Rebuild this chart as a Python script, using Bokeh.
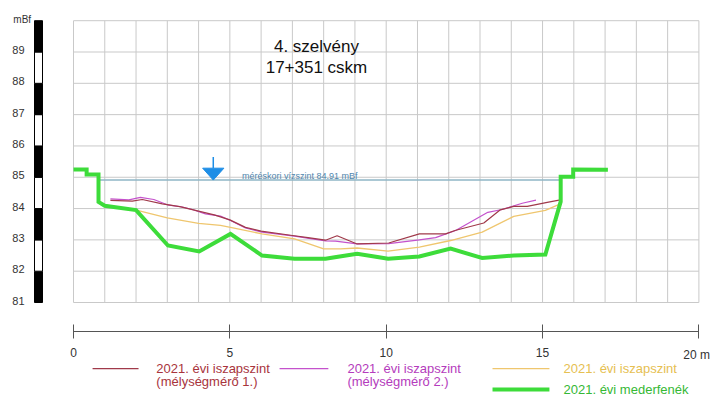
from bokeh.plotting import figure
from bokeh.models import LinearAxis, FixedTicker
from bokeh.core.properties import value
from bokeh.embed import file_html
from bokeh.resources import INLINE

# ---------------- data ----------------
title_lines = ["4. szelvény", "17+351 cskm"]

x_ticks = [0, 5, 10, 15, 20]
x_tick_labels = ["0", "5", "10", "15", "20 m"]

grid_x = list(range(0, 21))
levels = [81, 82, 83, 84, 85, 86, 87, 88, 89, 90]
level_labels = ["81", "82", "83", "84", "85", "86", "87", "88", "89"]
y_unit = "mBf"

water_level = 84.91
water_x = [0.80, 15.58]
water_marker_x = 4.47
water_text = "méréskori vízszint 84.91 mBf"

bed_x = [0.0, 0.42, 0.42, 0.80, 0.80, 1.00, 2.00, 3.02, 4.02, 5.02, 6.03, 7.07, 8.06,
         9.07, 10.06, 11.06, 12.06, 13.07, 14.08, 15.09, 15.58, 15.58, 15.98, 15.98, 17.09]
bed_y = [85.25, 85.25, 85.09, 85.09, 84.21, 84.09, 83.95, 82.82, 82.63, 83.19, 82.50, 82.40, 82.40,
         82.56, 82.40, 82.47, 82.72, 82.42, 82.50, 82.53, 84.22, 85.02, 85.02, 85.25, 85.24]

silt1_x = [1.18, 1.88, 2.20, 2.84, 3.40, 4.00, 4.50, 5.00, 5.50, 6.00, 7.00, 7.50, 8.06, 8.43,
           9.07, 10.08, 11.06, 11.90, 12.20, 13.12, 13.65, 14.08, 14.51, 15.15, 15.57]
silt1_y = [84.26, 84.24, 84.29, 84.15, 84.06, 83.92, 83.80, 83.64, 83.40, 83.28, 83.14, 83.07, 82.99, 83.13,
           82.87, 82.90, 83.19, 83.19, 83.30, 83.54, 83.96, 84.07, 84.07, 84.20, 84.28]

silt2_x = [1.18, 1.77, 2.14, 2.57, 3.00, 3.48, 3.80, 4.22, 4.70, 5.02, 5.50, 6.03, 7.07, 7.53, 8.06,
           8.38, 9.07, 10.08, 11.06, 11.58, 12.22, 13.25, 13.70, 14.35, 14.79]
silt2_y = [84.31, 84.28, 84.36, 84.29, 84.12, 84.05, 83.97, 83.83, 83.76, 83.62, 83.38, 83.25, 83.12, 83.05, 82.97,
           82.96, 82.87, 82.88, 83.00, 83.07, 83.30, 83.88, 83.97, 84.17, 84.27]

silt3_x = [2.01, 3.00, 4.00, 4.70, 5.02, 6.03, 7.07, 8.00, 8.54, 9.07, 10.06, 11.06, 12.06, 13.07,
           14.08, 15.09, 15.57]
silt3_y = [83.95, 83.70, 83.53, 83.46, 83.40, 83.19, 83.03, 82.71, 82.71, 82.74, 82.64, 82.77, 82.98, 83.25,
           83.75, 83.94, 84.15]

legend_labels = [["2021. évi iszapszint", "(mélységmérő 1.)"],
                 ["2021. évi iszapszint", "(mélységmérő 2.)"],
                 ["2021. évi iszapszint"],
                 ["2021. évi mederfenék"]]

# ---------------- style ----------------
FONT = value("Liberation Sans")
C_SILT1 = "#a03a4a"
C_SILT2 = "#c452cc"
C_SILT3 = "#efc66e"
C_BED = "#3ddc3a"
C_TXT1 = "#a8343c"
C_TXT2 = "#b43cbc"
C_TXT3 = "#e6c052"
C_TXT4 = "#35b835"
C_WATER = "#8fb6c6"
C_WTXT = "#4f86ae"
C_MARK = "#1e8ee6"
C_GRID = "#c9c9c9"

p = figure(width=711, height=396, x_range=(-2.3345, 20.403), y_range=(77.998, 90.645),
           output_backend="svg", toolbar_location=None,
           x_axis_location=None, y_axis_location=None, min_border=0,
           outline_line_color=None, background_fill_color="white", border_fill_color="white")
for g in p.grid:
    g.visible = False

# grid
gx0, gx1 = grid_x[0], grid_x[-1]
gy0, gy1 = levels[0], levels[-1]
p.segment(x0=grid_x, y0=[gy0] * len(grid_x), x1=grid_x, y1=[gy1] * len(grid_x),
          line_color=C_GRID, line_width=1)
p.segment(x0=[gx0] * len(levels), y0=levels, x1=[gx1] * len(levels), y1=levels,
          line_color=C_GRID, line_width=1)

# level scale bar on the left
bar_left, bar_right = -1.247, -0.991
bottoms = levels[:-1]
tops = levels[1:]
fills = ["black" if (b - levels[0]) % 2 == 0 else "white" for b in bottoms]
p.quad(left=bar_left, right=bar_right, bottom=bottoms, top=tops, fill_color=fills,
       line_color="black", line_width=1)
p.text(x=[-1.76] * len(level_labels), y=levels[:-1], text=level_labels, text_font=FONT,
       text_font_size="11px", text_color="#333333", text_align="center",
       text_baseline="alphabetic", y_offset=-2)
p.text(x=[-1.64], y=[levels[-1]], text=[y_unit], text_font=FONT, text_font_size="10px",
       text_color="#333333", text_align="center", text_baseline="alphabetic", y_offset=-1)

# water level
p.line(x=water_x, y=[water_level] * 2, line_color=C_WATER, line_width=1.5)
tri_w, tri_h, stem = 0.34, 0.38, 0.74
p.patch(x=[water_marker_x - tri_w, water_marker_x + tri_w, water_marker_x],
        y=[water_level + tri_h, water_level + tri_h, water_level],
        fill_color=C_MARK, line_color=C_MARK)
p.segment(x0=[water_marker_x], y0=[water_level + tri_h], x1=[water_marker_x], y1=[water_level + stem],
          line_color=C_MARK, line_width=1.5)
p.text(x=[5.39], y=[water_level], text=[water_text], text_font=FONT, text_font_size="9px",
       text_color=C_WTXT, text_baseline="alphabetic", y_offset=-4)

# silt lines and bed
p.line(silt3_x, silt3_y, line_color=C_SILT3, line_width=1.3)
p.line(silt2_x, silt2_y, line_color=C_SILT2, line_width=1.2)
p.line(silt1_x, silt1_y, line_color=C_SILT1, line_width=1.2)
p.line(bed_x, bed_y, line_color=C_BED, line_width=4, line_join="miter")

# title
p.text(x=[7.77, 7.77], y=[89.18, 88.51], text=title_lines, text_font=FONT,
       text_font_size="17px", text_color="#111111", text_align="center",
       text_baseline="alphabetic")

# x axis (fixed inside the canvas below the grid)
axis_y = 80.07
overrides = {t: l for t, l in zip(x_ticks[:-1], x_tick_labels[:-1])}
overrides[x_ticks[-1]] = ""
xaxis = LinearAxis(fixed_location=axis_y, bounds=(x_ticks[0], x_ticks[-1]),
                   ticker=FixedTicker(ticks=x_ticks),
                   major_label_overrides=overrides,
                   major_tick_in=7, major_tick_out=7, minor_tick_line_color=None,
                   axis_line_color="#555555", major_tick_line_color="#555555",
                   major_label_text_font="Liberation Sans", major_label_text_font_size="12px",
                   major_label_text_color="#333333", major_label_standoff=9)
p.add_layout(xaxis, "below")
# last tick label with unit, kept inside the canvas
p.text(x=[x_ticks[-1]], y=[axis_y], text=[x_tick_labels[-1]], text_font=FONT, text_font_size="12px",
       text_color="#333333", text_align="right", text_baseline="top", x_offset=11, y_offset=16)

# legend
row1, row2, row3 = 78.89, 78.47, 78.22
leg_lines = [(0.61, 2.08, row1, C_SILT1, 1.3), (6.59, 8.15, row1, C_SILT2, 1.3),
             (13.4, 15.22, row1, C_SILT3, 1.3), (13.4, 15.22, row3, C_BED, 4)]
for (a, b, yy, c, w) in leg_lines:
    p.line([a, b], [yy, yy], line_color=c, line_width=w)
leg_text_x = [2.65, 8.76, 15.67, 15.67]
leg_text_y = [[row1, row2], [row1, row2], [row1], [row3]]
leg_colors = [C_TXT1, C_TXT2, C_TXT3, C_TXT4]
for tx, tys, labs, col in zip(leg_text_x, leg_text_y, legend_labels, leg_colors):
    p.text(x=[tx] * len(labs), y=tys, text=labs, text_font=FONT, text_font_size="13px",
           text_color=col, text_baseline="middle", text_align="left")

open("out.html", "w").write(file_html(p, INLINE))
